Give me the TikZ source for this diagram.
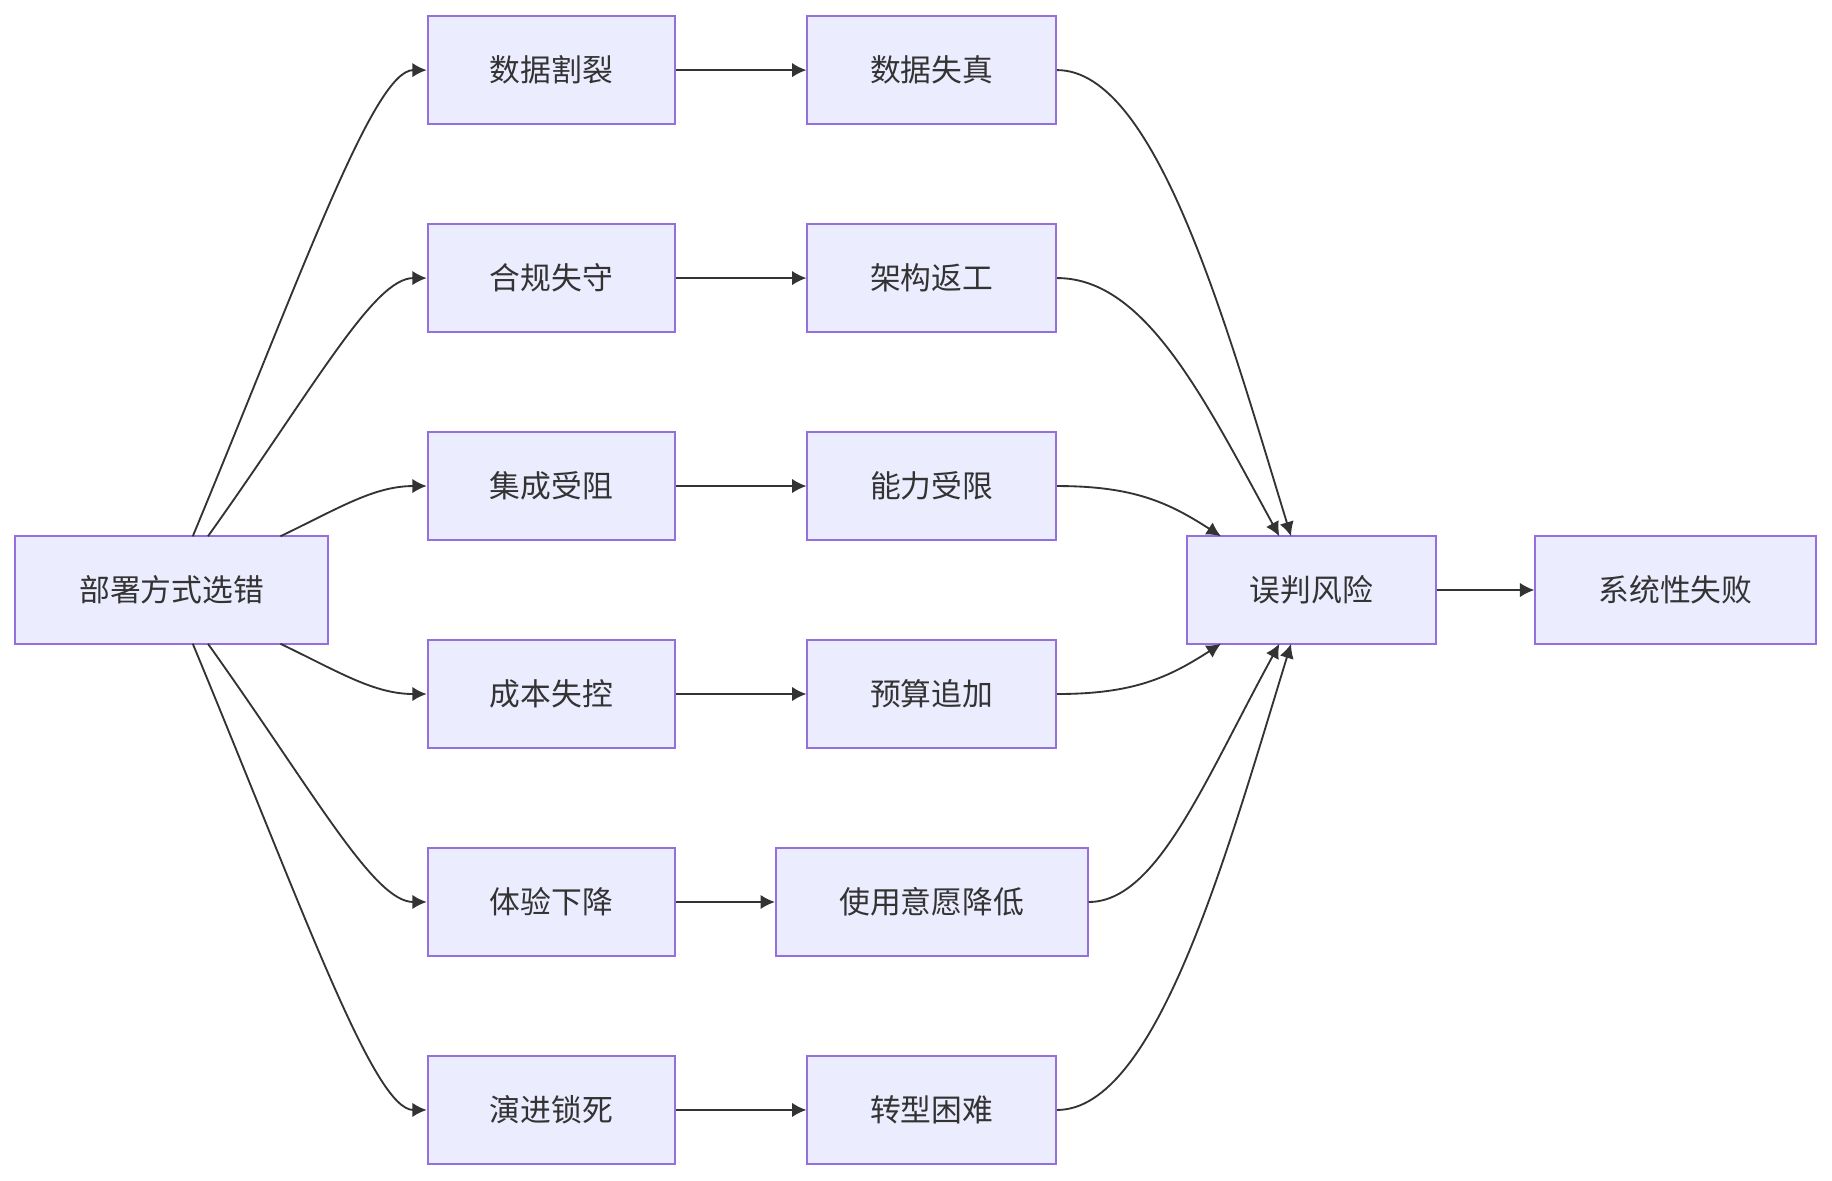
\documentclass[tikz,border=0pt]{standalone}
\usepackage{fontspec}
\setmainfont{Noto Sans CJK SC}
\usetikzlibrary{arrows.meta}
\definecolor{bx}{HTML}{ECECFF}
\definecolor{bd}{HTML}{9370DB}
\definecolor{ln}{HTML}{333333}
\begin{document}
\begin{tikzpicture}[x=0.02cm,y=-0.02cm,
  box/.style={draw=bd,fill=bx,line width=0.9pt,minimum height=1.84cm,inner sep=0pt,font=\fontsize{15pt}{18pt}\selectfont,text=ln},
  ar/.style={draw=ln,line width=0.9pt,-{Latex[length=7pt,width=7pt]}}]
\useasboundingbox[fill=white] (0,0) rectangle (1568,1010);
\node[box,minimum width=5.36cm] (A) at (147,505) {部署方式选错};
\foreach \n/\t/\y in {b1/数据割裂/60,b2/合规失守/238,b3/集成受阻/416,b4/成本失控/594,b5/体验下降/772,b6/演进锁死/950}
  \node[box,minimum width=4.24cm] (\n) at (472,\y) {\t};
\foreach \n/\t/\y in {c1/数据失真/60,c2/架构返工/238,c3/能力受限/416,c4/预算追加/594,c6/转型困难/950}
  \node[box,minimum width=4.26cm] (\n) at (797.5,\y) {\t};
\node[box,minimum width=5.34cm] (c5) at (797.5,772) {使用意愿降低};
\node[box,minimum width=4.26cm] (R) at (1122.5,505) {误判风险};
\node[box,minimum width=4.8cm] (F) at (1434,505) {系统性失败};
\coordinate (s1) at (165,459); \coordinate (s2) at (178,459); \coordinate (s3) at (240,459);
\coordinate (s4) at (240,551); \coordinate (s5) at (178,551); \coordinate (s6) at (165,551);
\coordinate (e1) at (1105,459); \coordinate (e2) at (1095,459); \coordinate (e3) at (1045,459);
\coordinate (e4) at (1045,551); \coordinate (e5) at (1095,551); \coordinate (e6) at (1105,551);
\draw[ar] (s1) .. controls (260,230) and (320,60) .. (b1.west);
\draw[ar] (s2) .. controls (270,330) and (320,238) .. (b2.west);
\draw[ar] (s3) .. controls (290,435) and (320,416) .. (b3.west);
\draw[ar] (s4) .. controls (290,575) and (320,594) .. (b4.west);
\draw[ar] (s5) .. controls (270,680) and (320,772) .. (b5.west);
\draw[ar] (s6) .. controls (260,780) and (320,950) .. (b6.west);
\foreach \i in {1,...,6} \draw[ar] (b\i.east) -- (c\i.west);
\draw[ar] (c1.east) .. controls (990,60) and (1050,280) .. (e1);
\draw[ar] (c2.east) .. controls (980,238) and (1030,340) .. (e2);
\draw[ar] (c3.east) .. controls (970,416) and (1000,430) .. (e3);
\draw[ar] (c4.east) .. controls (970,594) and (1000,580) .. (e4);
\draw[ar] (c5.east) .. controls (990,772) and (1030,670) .. (e5);
\draw[ar] (c6.east) .. controls (990,950) and (1050,730) .. (e6);
\draw[ar] (R.east) -- (F.west);
\end{tikzpicture}
\end{document}
